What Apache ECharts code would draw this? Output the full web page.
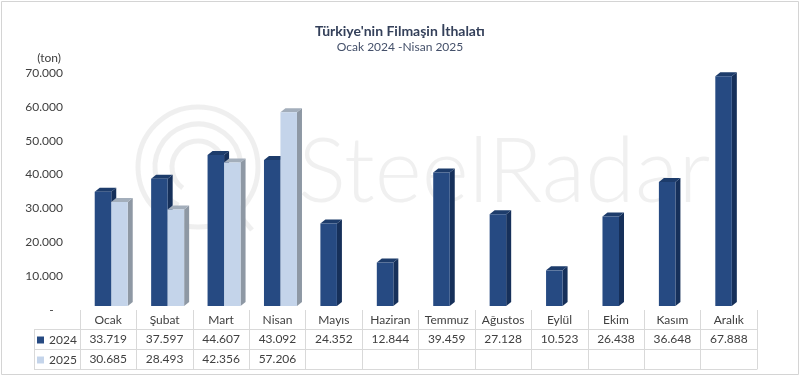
<!DOCTYPE html>
<html>
<head>
<meta charset="utf-8">
<script src="https://cdn.jsdelivr.net/npm/echarts@6/dist/echarts.min.js"></script>
<style>html,body{margin:0;padding:0;background:#fff}#c{width:800px;height:377px}</style>
</head>
<body>
<div id="c"></div>
<script>
const categories = ['Ocak','Şubat','Mart','Nisan','Mayıs','Haziran','Temmuz','Ağustos','Eylül','Ekim','Kasım','Aralık'];
const values2024 = [33719,37597,44607,43092,24352,12844,39459,27128,10523,26438,36648,67888];
const values2025 = [30685,28493,42356,57206,null,null,null,null,null,null,null,null];
const yTicks = [0,10000,20000,30000,40000,50000,60000,70000];
const seriesNames = ['2024','2025'];

function fmt(v){
  if (v == null) return '';
  return String(v).replace(/\B(?=(\d{3})+(?!\d))/g, '.');
}

const FONT = 'Lato, "Open Sans", sans-serif';
const TXT = '#404040';
const LINE = '#d9d9d9';
const colors = [
  {front:'#264a82', top:'#1d3c6b', side:'#16305a'},
  {front:'#c4d4ea', top:'#a3aebb', side:'#8e98a4'}
];

function makeRender(si){
  return function(params, api){
    const v = api.value(1);
    if (v == null || isNaN(v)) return;
    const i = api.value(0);
    const top = api.coord([i, v]);
    const base = api.coord([i, 0]);
    const band = api.size([1, 0])[0];
    const w = band * 0.293;
    const x0 = top[0] + (si === 0 ? -0.239 * band : 0.053 * band);
    const lift = 4, dx = 5, dy = 4;
    const yt = top[1] - lift, yb = base[1] - lift;
    const c = colors[si];
    return {
      type: 'group',
      children: [
        {type:'polygon', shape:{points:[[x0+w,yt],[x0+w+dx,yt-dy],[x0+w+dx,yb-dy],[x0+w,yb]]}, style:{fill:c.side}},
        {type:'polygon', shape:{points:[[x0,yt],[x0+w,yt],[x0+w+dx,yt-dy],[x0+dx,yt-dy]]}, style:{fill:c.top}},
        {type:'rect', shape:{x:x0, y:yt, width:w, height:yb-yt}, style:{fill:c.front}}
      ]
    };
  };
}

const chart = echarts.init(document.getElementById('c'), null, {renderer:'canvas'});

const tableAxis = (offset, labels, showLabel, showTick) => ({
  type: 'category',
  data: categories,
  position: 'bottom',
  offset: offset,
  axisLine: {show: true, lineStyle: {color: LINE, width: 1}},
  axisTick: {show: showTick, length: 20, interval: 0, lineStyle: {color: LINE}},
  axisLabel: {show: showLabel, interval: 0, margin: 4, fontSize: 12, color: TXT, fontFamily: FONT,
    formatter: (val, idx) => labels ? fmt(labels[idx]) : ''},
  splitLine: {show: false}
});

chart.setOption({
  animation: false,
  backgroundColor: '#ffffff',
  title: [
    {text: "Türkiye'nin Filmaşin İthalatı", left: 'center', top: 19,
     textStyle: {fontFamily: FONT, fontSize: 14, fontWeight: 'bold', color: '#34405a'}},
    {text: 'Ocak 2024 -Nisan 2025', left: 'center', top: 36,
     textStyle: {fontFamily: FONT, fontSize: 12, fontWeight: 'normal', color: '#44506a'}}
  ],
  legend: {
    orient: 'vertical', left: 37, top: 333, padding: 0, itemWidth: 7, itemHeight: 7, itemGap: 6,
    icon: 'rect', data: seriesNames, selectedMode: false,
    textStyle: {fontFamily: FONT, fontSize: 12, color: TXT, lineHeight: 14}
  },
  grid: {left: 80, right: 43, top: 73, bottom: 67, containLabel: false},
  xAxis: [
    {type: 'category', data: categories, position: 'bottom',
     axisLine: {show: false}, axisTick: {show: true, length: 19, interval: 0, lineStyle: {color: LINE}},
     axisLabel: {interval: 0, margin: 4, fontSize: 12, color: TXT, fontFamily: FONT},
     splitLine: {show: false}},
    tableAxis(19, values2024, true, true),
    tableAxis(39, values2025, true, true),
    tableAxis(59, null, false, false)
  ],
  yAxis: {
    type: 'value', min: yTicks[0], max: yTicks[yTicks.length-1], interval: 10000,
    name: '(ton)', nameLocation: 'end', nameGap: 9,
    nameTextStyle: {fontFamily: FONT, fontSize: 12, color: TXT, align: 'right', padding: [0, 19, 0, 0]},
    axisLine: {show: false}, axisTick: {show: false}, splitLine: {show: false},
    axisLabel: {margin: 17, fontSize: 12, color: TXT, fontFamily: FONT,
      formatter: v => v === 0 ? '-   ' : fmt(v)}
  },
  series: [
    {name: seriesNames[0], type: 'custom', renderItem: makeRender(0), itemStyle: {color: colors[0].front},
     data: values2024.map((v, i) => [i, v]), encode: {x: 0, y: 1}},
    {name: seriesNames[1], type: 'custom', renderItem: makeRender(1), itemStyle: {color: colors[1].front},
     data: values2025.map((v, i) => [i, v == null ? '-' : v]), encode: {x: 0, y: 1}}
  ],
  graphic: [
    {type: 'rect', z: 0, silent: true, shape: {x: 1.5, y: 1.5, width: 797, height: 373},
     style: {fill: 'none', stroke: '#d4d4d4', lineWidth: 1}},
    {type: 'line', silent: true, shape: {x1: 34, y1: 329.5, x2: 80, y2: 329.5}, style: {stroke: LINE}},
    {type: 'line', silent: true, shape: {x1: 34, y1: 349.5, x2: 80, y2: 349.5}, style: {stroke: LINE}},
    {type: 'line', silent: true, shape: {x1: 34, y1: 369.5, x2: 80, y2: 369.5}, style: {stroke: LINE}},
    {type: 'line', silent: true, shape: {x1: 34.5, y1: 329, x2: 34.5, y2: 370}, style: {stroke: LINE}},
    {type: 'group', silent: true, z: 100, children: [
      {type: 'circle', shape: {cx: 198, cy: 167, r: 60}, style: {fill: 'none', stroke: 'rgba(140,140,140,0.14)', lineWidth: 5}},
      {type: 'arc', shape: {cx: 198, cy: 167, r: 43, startAngle: Math.PI*0.65, endAngle: Math.PI*2.25}, style: {fill: 'none', stroke: 'rgba(140,140,140,0.14)', lineWidth: 5}},
      {type: 'arc', shape: {cx: 198, cy: 167, r: 26, startAngle: Math.PI*0.7, endAngle: Math.PI*2.1}, style: {fill: 'none', stroke: 'rgba(140,140,140,0.14)', lineWidth: 5}},
      {type: 'line', shape: {x1: 218, y1: 190, x2: 252, y2: 230}, style: {stroke: 'rgba(140,140,140,0.14)', lineWidth: 5}},
      {type: 'text', x: 298, y: 128, style: {text: 'SteelRadar', font: '300 90px Lato, "Open Sans", sans-serif', fill: 'rgba(140,140,140,0.13)'}}
    ]}
  ]
});
</script>
</body>
</html>
